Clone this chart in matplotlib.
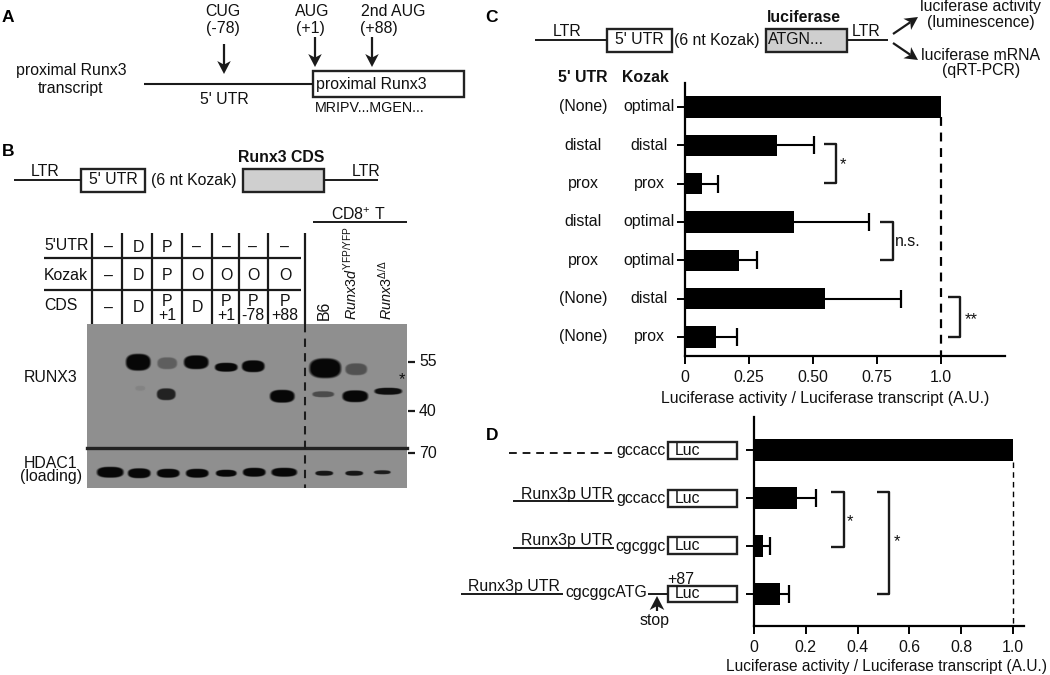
import numpy as np
import matplotlib
matplotlib.use("Agg")
import matplotlib.pyplot as plt
from matplotlib.patches import Rectangle, Polygon

plt.rcParams['font.family'] = ['Liberation Sans', 'DejaVu Sans']
plt.rcParams['mathtext.fontset'] = 'custom'
plt.rcParams['mathtext.rm'] = 'Liberation Sans'
plt.rcParams['mathtext.it'] = 'Liberation Sans:italic'
plt.rcParams['mathtext.bf'] = 'Liberation Sans:bold'

# panel C
c_utr = ["(None)", "distal", "prox", "distal", "prox", "(None)", "(None)"]
c_kozak = ["optimal", "distal", "prox", "optimal", "optimal", "distal", "prox"]
c_vals = [1.0, 0.36, 0.065, 0.425, 0.21, 0.545, 0.12]
c_err = [0, 0.145, 0.065, 0.295, 0.07, 0.30, 0.085]
c_ticks = [0, 0.25, 0.50, 0.75, 1.0]
c_ticklabels = ["0", "0.25", "0.50", "0.75", "1.0"]

# panel D
d_vals = [1.0, 0.165, 0.033, 0.10]
d_err = [0, 0.075, 0.029, 0.037]
d_ticks = [0, 0.2, 0.4, 0.6, 0.8, 1.0]
d_ticklabels = ["0", "0.2", "0.4", "0.6", "0.8", "1.0"]

# panel B table
row_names = ["5'UTR", "Kozak", "CDS"]
row_utr = ["–", "D", "P", "–", "–", "–", "–"]
row_kozak = ["–", "D", "P", "O", "O", "O", "O"]
row_cds = ["–", "D", "P\n+1", "D", "P\n+1", "P\n-78", "P\n+88"]

# blot bands: lane x, y, width, height, darkness (pixels of the scanned gel)
band_x = [138, 167, 166, 196, 226, 253, 282, 325, 323, 356, 355, 388, 140,
          110, 139, 168, 197, 226, 254, 284, 324, 354, 382]
band_y = [362, 363, 394, 362, 367, 366, 396, 368, 394, 369, 396, 391, 388,
          472, 473, 473, 473, 473, 472, 472, 473, 473, 472]
band_w = [25, 20, 19, 25, 23, 23, 25, 32, 22, 22, 26, 28, 10,
          27, 23, 23, 23, 21, 23, 26, 18, 18, 17]
band_h = [17, 12, 12, 14, 9, 12, 13, 20, 6, 12, 12, 7, 5,
          11, 10, 9, 9, 7, 9, 9, 5, 5, 4]
band_d = [1, 0.35, 0.8, 1, 1, 1, 1, 1, 0.5, 0.45, 1, 0.95, 0.08,
          1, 1, 1, 1, 1, 1, 1, 0.9, 0.9, 0.85]

fig = plt.figure(figsize=(10.5, 6.75), dpi=100)
FS = 11.4

# whole figure canvas in pixels for the drawings
bg = fig.add_axes([0, 0, 1, 1])
bg.set_xlim(0, 1050)
bg.set_ylim(675, 0)
bg.axis("off")


def txt(x, y, s, ha="center", **kw):
    kw.setdefault("fontsize", FS)
    kw.setdefault("color", "#111111")
    bg.text(x, y, s, ha=ha, va="center", **kw)


def line(xs, ys, lw=1.4, **kw):
    kw.setdefault("color", "#1a1a1a")
    bg.plot(xs, ys, lw=lw, solid_capstyle="butt", **kw)


def box(x0, y0, x1, y1, fc="white", lw=1.7):
    bg.add_patch(Rectangle((x0, y0), x1 - x0, y1 - y0, fc=fc, ec="#222222", lw=lw))


def arrow(x0, y0, x1, y1, size=13):
    # line with a notched head, like the hand drawn arrows of the figure
    d = np.array([x1 - x0, y1 - y0], dtype=float)
    d /= np.hypot(*d)
    n = np.array([-d[1], d[0]])
    tip = np.array([x1, y1], dtype=float)
    notch = tip - d * size * 0.72
    line([x0, notch[0]], [y0, notch[1]], lw=1.6)
    pts = [tip, tip - d * size + n * size * 0.52, notch, tip - d * size - n * size * 0.52]
    bg.add_patch(Polygon(pts, closed=True, fc="#1a1a1a", ec="none"))


def bracket(x0, x1, y0, y1):
    line([x0, x1, x1, x0], [y0, y0, y1, y1], lw=1.7)


def bar_axes(x0, x1, xright, ytop, ybottom, y_first, y_step, vals, errs, ticks, labels,
             height, dash_start, dash_lw):
    ax = fig.add_axes([x0 / 1050, 1 - ybottom / 675, (xright - x0) / 1050, (ybottom - ytop) / 675])
    ax.patch.set_alpha(0)
    pos = np.arange(len(vals))
    ax.barh(pos, vals, height=height, color="black", zorder=2)
    for v, e, p in zip(vals, errs, pos):
        if e > 0:
            ax.plot([v, v + e], [p, p], color="black", lw=1.5, zorder=1, solid_capstyle="butt")
            ax.plot([v + e], [p], color="black", marker="|", ms=12.5, mew=1.6, zorder=1)
    ax.plot([1, 1], [dash_start, (ybottom - y_first) / y_step], color="black", lw=dash_lw, ls=(0, (4, 3)))
    ax.set_xlim(0, (xright - x0) / (x1 - x0))
    ax.set_ylim((ybottom - y_first) / y_step, (ytop - y_first) / y_step)
    ax.set_xticks(ticks)
    ax.set_xticklabels(labels, fontsize=FS, color="#111111")
    ax.set_yticks(pos)
    ax.set_yticklabels([])
    ax.tick_params(axis="both", length=6, width=1.4, pad=4)
    for side in ["top", "right"]:
        ax.spines[side].set_visible(False)
    for side in ["left", "bottom"]:
        ax.spines[side].set_linewidth(1.6)
    return ax


# A
txt(8, 18, "A", fontsize=12.5, fontweight="bold", color="black")
txt(71, 70, "proximal Runx3")
txt(71, 88, "transcript")
line([144, 313], [84, 84], lw=1.5)
box(313, 71, 464, 97)
txt(316, 84, "proximal Runx3", ha="left")
txt(224, 100, "5' UTR")
txt(315, 108, "MRIPV...MGEN...", ha="left", fontsize=10.3)
arrow(224, 44, 224, 74)
arrow(315, 37, 315, 67)
arrow(372, 37, 372, 67)
txt(223, 12, "CUG")
txt(223, 29, "(-78)")
txt(312, 12, "AUG")
txt(310, 29, "(+1)")
txt(393, 12, "2nd AUG")
txt(379, 29, "(+88)")

# B schematic
txt(8, 152, "B", fontsize=12.5, fontweight="bold", color="black")
txt(45, 172, "LTR")
line([14, 81], [180, 180])
box(81, 169, 145, 192)
txt(113, 180, "5' UTR")
txt(151, 180, "(6 nt Kozak)", ha="left")
box(243, 169, 324, 192, fc="#cfcfcf")
txt(281, 157, "Runx3 CDS", fontweight="bold")
txt(366, 172, "LTR")
line([324, 378], [180, 180])
txt(358, 215, "CD8$^{+}$ T")
line([313, 407], [222, 222])

# B table
for name, y in zip(row_names, [246, 275, 306]):
    txt(44, y, name, ha="left")
col_x = [108, 138, 167, 197, 226, 253, 285]
for i, cx in enumerate(col_x):
    txt(cx, 247, row_utr[i])
    txt(cx, 276, row_kozak[i])
    parts = row_cds[i].split("\n")
    if len(parts) == 1:
        txt(cx, 308, parts[0])
    else:
        txt(cx, 301, parts[0])
        txt(cx, 316, parts[1])
for vx in [92, 122, 152, 182, 212, 239, 268, 305]:
    line([vx, vx], [233, 324], lw=1.6)
for hy in [258, 290]:
    line([44, 301], [hy, hy], lw=1.6)
bg.text(324, 320, "B6", rotation=90, ha="center", va="bottom", fontsize=FS, color="#111111")
bg.text(351, 320, r"$\mathit{Runx3d}^{\mathrm{YFP/YFP}}$", rotation=90, ha="center", va="bottom",
        fontsize=10.4, color="#111111")
bg.text(386, 320, r"$\mathit{Runx3}^{\Delta/\Delta}$", rotation=90, ha="center", va="bottom",
        fontsize=10.4, color="#111111")

# B blot
gx, gy = np.meshgrid(np.arange(87, 407, 0.5), np.arange(324, 488, 0.5))
dark = np.zeros_like(gx)
for cx, cy, w, h, d in zip(band_x, band_y, band_w, band_h, band_d):
    r = np.abs((gx - cx) / (w / 2)) ** 2.6 + np.abs((gy - cy) / (h / 2)) ** 2.6
    dark = np.maximum(dark, d * np.clip((1.2 - r) / 0.5, 0, 1))
gel = 0.56 * (1 - dark) + 0.03 * dark
bg.imshow(gel, cmap="gray", vmin=0, vmax=1, extent=(87, 407, 488, 324), aspect="auto", zorder=1)
bg.set_xlim(0, 1050)
bg.set_ylim(675, 0)
bg.plot([87, 407], [448, 448], color="#222222", lw=2.4, zorder=2)
bg.plot([305, 305], [324, 488], color="#1c1c1c", lw=1.5, ls=(0, (4, 3)), zorder=2)
txt(51, 377, "RUNX3")
txt(51, 463, "HDAC1")
txt(51, 477, "(loading)")
for lab, y in zip(["55", "40", "70"], [362, 411, 453]):
    line([408, 415], [y, y], lw=1.6)
    txt(419, y, lab, ha="left")
txt(402, 380, "*", fontsize=12)

# C schematic
txt(492, 18, "C", fontsize=12.5, fontweight="bold", color="black")
txt(567, 31, "LTR")
line([535, 607], [40, 40])
box(607, 29, 672, 52)
txt(639, 40, "5' UTR")
txt(674, 40, "(6 nt Kozak)", ha="left")
box(766, 29, 847, 52, fc="#cfcfcf")
txt(768, 40, "ATGN...", ha="left")
txt(804, 17, "luciferase", fontweight="bold")
txt(866, 31, "LTR")
line([847, 888], [40, 40])
arrow(893, 34, 918, 17)
arrow(893, 43, 918, 60)
txt(981, 7, "luciferase activity")
txt(981, 22, "(luminescence)")
txt(981, 55, "luciferase mRNA")
txt(981, 71, "(qRT-PCR)")
txt(583, 77, "5' UTR", fontweight="bold")
txt(645, 77, "Kozak", fontweight="bold")

c_y = 107 + 38.33 * np.arange(len(c_vals))
for y, u, k in zip(c_y, c_utr, c_kozak):
    txt(583, y, u)
    txt(649, y, k)
bar_axes(685, 941, 1005, 83, 356, 107, 38.33, c_vals, c_err, c_ticks, c_ticklabels, 0.55, 0.25, 1.6)
txt(825, 398, "Luciferase activity / Luciferase transcript (A.U.)")
bracket(824, 836, 144, 183)
txt(843, 165, "*", fontsize=12)
bracket(880, 893, 222, 260)
txt(895, 242, "n.s.", ha="left")
bracket(948, 960, 297, 337)
txt(971, 320, "**", fontsize=12)

# D schematic
txt(492, 436, "D", fontsize=12.5, fontweight="bold", color="black")
luc_top = [442, 490, 537, 586]
luc_bottom = [459, 507, 554, 602]
for y0, y1 in zip(luc_top, luc_bottom):
    box(668, y0, 737, y1)
    txt(675, (y0 + y1) / 2, "Luc", ha="left")
txt(666, 450, "gccacc", ha="right")
line([509, 613], [453, 453], ls=(0, (4, 3)))
txt(567, 494, "Runx3p UTR")
line([513, 614], [501, 501])
txt(666, 499, "gccacc", ha="right")
txt(567, 541, "Runx3p UTR")
line([513, 614], [548, 548])
txt(666, 547, "cgcggc", ha="right")
txt(514, 587, "Runx3p UTR")
line([461, 563], [594, 594])
txt(565, 593, "cgcggcATG", ha="left")
line([648, 668], [594, 594])
txt(681, 579, "+87")
arrow(657, 611, 657, 596, size=14)
txt(655, 620, "stop")

bar_axes(754, 1013, 1024, 417, 626, 450, 48, d_vals, d_err, d_ticks, d_ticklabels, 0.47, 0.25, 1.0)
txt(886, 667, "Luciferase activity / Luciferase transcript (A.U.)", fontsize=11.2)
bracket(831, 844, 492, 547)
txt(850, 522, "*", fontsize=12)
bracket(877, 889, 492, 594)
txt(897, 542, "*", fontsize=12)

fig.savefig("out.png", dpi=100)
